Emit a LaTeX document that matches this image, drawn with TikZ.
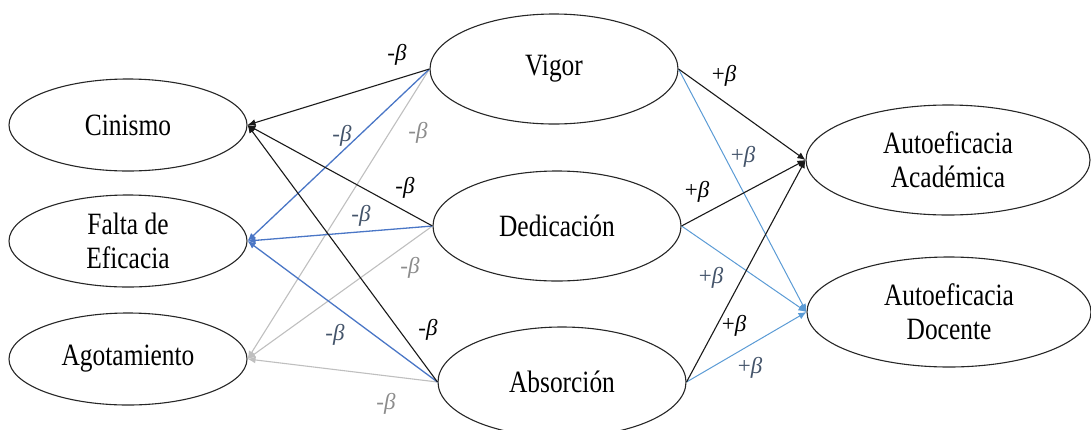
\documentclass[tikz,border=0pt]{standalone}
\usepackage{fontspec}
\setmainfont{Liberation Serif}
\usetikzlibrary{shapes.geometric,arrows.meta}
\definecolor{lblue}{HTML}{4A76C6}
\definecolor{rblue}{HTML}{5B9BD5}
\definecolor{lgray}{HTML}{BFBFBF}
\definecolor{bgray}{HTML}{44546A}
\definecolor{tgray}{HTML}{8C8C8C}
\newfontfamily\boxfont[FakeStretch=0.82]{Liberation Serif}
\tikzset{
  var/.style={ellipse,draw=black!85,line width=1.1pt,inner sep=0pt,
    font=\boxfont\fontsize{31}{34}\selectfont,align=center},
  small/.style={var,minimum width=238pt,minimum height=92pt},
  mid/.style={var,minimum width=248pt,minimum height=110pt},
  big/.style={var,minimum width=284pt,minimum height=110pt},
  arr/.style={line width=1.1pt,-{Latex[length=8pt,width=7pt]}},
  blk/.style={arr,draw=black!90},
  lb/.style={arr,draw=lblue,line width=1.3pt},
  rb/.style={arr,draw=rblue,line width=1pt},
  gr/.style={arr,draw=lgray},
  coef/.style={font=\fontsize{23}{26}\selectfont,inner sep=0pt}
}
\begin{document}
\begin{tikzpicture}[x=1pt,y=-1pt]
\useasboundingbox (0,0) rectangle (1091,429);
\node[small] (cin) at (128,125) {Cinismo};
\node[small] (fal) at (128,241) {Falta de\\Eficacia};
\node[small] (ago) at (128,359) {Agotamiento};
\node[mid] (vig) at (554,69) {Vigor};
\node[mid] (ded) at (557,226) {Dedicación};
\node[mid] (abs) at (562,382) {Absorción};
\node[big] (aca) at (948,160) {Autoeficacia\\Académica};
\node[big] (doc) at (949,312) {Autoeficacia\\Docente};
% left side
\draw[gr] (vig.west) -- (ago.east);
\draw[gr] (ded.west) -- (ago.east);
\draw[gr] (abs.west) -- (ago.east);
\draw[lb] (vig.west) -- (fal.east);
\draw[lb] (ded.west) -- (fal.east);
\draw[lb] (abs.west) -- (fal.east);
\draw[blk] (vig.west) -- (cin.east);
\draw[blk] (ded.west) -- (cin.east);
\draw[blk] (abs.west) -- (cin.east);
% right side
\draw[rb] (vig.east) -- (doc.west);
\draw[rb] (ded.east) -- (doc.west);
\draw[rb] (abs.east) -- (doc.west);
\draw[blk] (vig.east) -- (aca.west);
\draw[blk] (ded.east) -- (aca.west);
\draw[blk] (abs.east) -- (aca.west);
% labels
\node[coef] (l1) at (397,55) {-\textit{β}};
\node[coef,text=bgray] (l2) at (342,136) {-\textit{β}};
\node[coef,text=tgray] (l3) at (418,133) {-\textit{β}};
\node[coef] (l4) at (405,188) {-\textit{β}};
\node[coef,text=bgray] (l5) at (361,216) {-\textit{β}};
\node[coef,text=tgray] (l6) at (410,268) {-\textit{β}};
\node[coef] (l7) at (428,330) {-\textit{β}};
\node[coef,text=bgray] (l8) at (335,335) {-\textit{β}};
\node[coef,text=tgray] (l9) at (386,404) {-\textit{β}};
\node[coef] (r1) at (724,76) {+\textit{β}};
\node[coef,text=bgray] (r2) at (743,157) {+\textit{β}};
\node[coef] (r3) at (697,192) {+\textit{β}};
\node[coef,text=bgray] (r4) at (711,278) {+\textit{β}};
\node[coef] (r5) at (734,326) {+\textit{β}};
\node[coef,text=bgray] (r6) at (750,368) {+\textit{β}};
\end{tikzpicture}
\end{document}
